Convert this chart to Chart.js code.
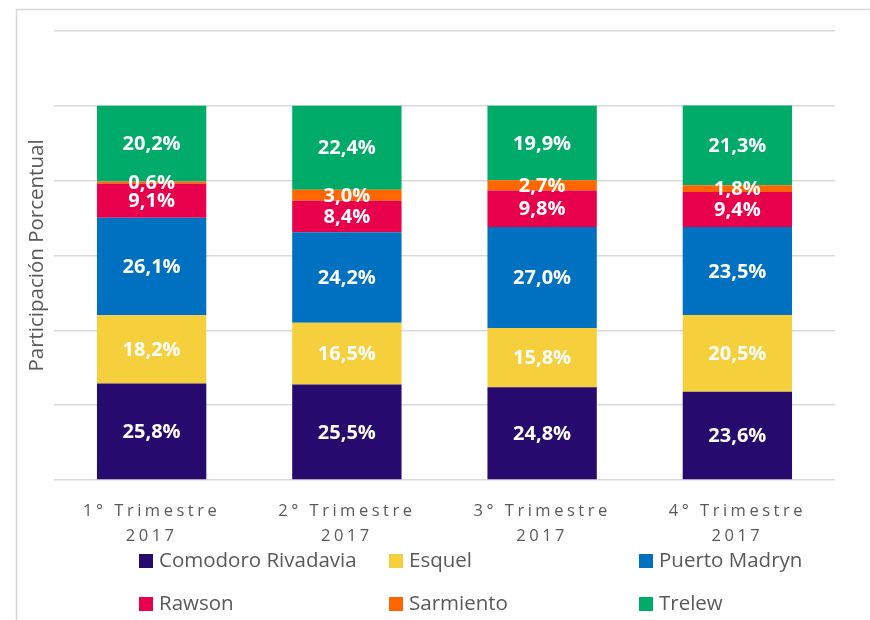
<!DOCTYPE html>
<html lang="es">
<head>
  <meta charset="UTF-8">
  <title>Participación Porcentual 2017</title>
  <style>
    html, body { margin: 0; padding: 0; background: #fff; }
    #wrap { width: 870px; height: 620px; }
  </style>
</head>
<body>
  <div id="wrap"><canvas id="chart" width="870" height="620"></canvas></div>

  <script src="https://cdn.jsdelivr.net/npm/chart.js"></script>
  <script>
    const categories = [['1° Trimestre', '2017'], ['2° Trimestre', '2017'], ['3° Trimestre', '2017'], ['4° Trimestre', '2017']];
    const cities = ['Comodoro Rivadavia', 'Esquel', 'Puerto Madryn', 'Rawson', 'Sarmiento', 'Trelew'];
    const comodoro = [25.8, 25.5, 24.8, 23.6];
    const esquel = [18.2, 16.5, 15.8, 20.5];
    const puertoMadryn = [26.1, 24.2, 27.0, 23.5];
    const rawson = [9.1, 8.4, 9.8, 9.4];
    const sarmiento = [0.6, 3.0, 2.7, 1.8];
    const trelew = [20.2, 22.4, 19.9, 21.3];
    const colors = ['#270a6e', '#f6cf3d', '#0070c0', '#e8004c', '#ff6600', '#00aa68'];

    const FONT = "'Open Sans', sans-serif";
    const GREY = '#595959';

    const series = [comodoro, esquel, puertoMadryn, rawson, sarmiento, trelew];

    // frame + white background
    const framePlugin = {
      id: 'frame',
      beforeDraw(chart) {
        const ctx = chart.ctx;
        ctx.save();
        ctx.fillStyle = '#fff';
        ctx.fillRect(0, 0, chart.width, chart.height);
        ctx.strokeStyle = '#d9d9d9';
        ctx.lineWidth = 1.5;
        ctx.strokeRect(16.5, 9.5, chart.width + 20, chart.height + 20);
        ctx.restore();

        // spaced-out x tick labels
        const sx = chart.scales.x;
        if (sx && !sx._spaced) {
          const orig = sx.drawLabels.bind(sx);
          sx.drawLabels = (area) => {
            chart.ctx.save();
            chart.ctx.letterSpacing = '3.5px';
            orig(area);
            chart.ctx.restore();
          };
          sx._spaced = true;
        }
      }
    };

    const valueLabels = {
      id: 'valueLabels',
      afterDatasetsDraw(chart) {
        const ctx = chart.ctx;
        ctx.save();
        ctx.font = 'bold 20px ' + FONT;
        ctx.fillStyle = '#fff';
        ctx.textAlign = 'center';
        ctx.textBaseline = 'middle';
        chart.data.datasets.forEach((ds, i) => {
          chart.getDatasetMeta(i).data.forEach((el, j) => {
            const p = el.getProps(['x', 'y', 'base'], true);
            const txt = ds.data[j].toFixed(1).replace('.', ',') + '%';
            ctx.fillText(txt, p.x, (p.y + p.base) / 2 + 1);
          });
        });
        ctx.restore();
      }
    };

    // 3-column legend like the original
    const gridLegend = {
      id: 'gridLegend',
      afterDraw(chart) {
        const ctx = chart.ctx;
        ctx.save();
        ctx.font = '20.5px ' + FONT;
        ctx.textBaseline = 'middle';
        chart.data.datasets.forEach((ds, i) => {
          const bx = 139 + (i % 3) * 250;
          const cy = 561 + Math.floor(i / 3) * 43;
          ctx.fillStyle = ds.backgroundColor;
          ctx.fillRect(bx, cy - 7, 14, 14);
          ctx.fillStyle = GREY;
          ctx.fillText(ds.label, bx + 20, cy);
        });
        ctx.restore();
      }
    };

    const ctx = document.getElementById('chart');
    const chart = new Chart(ctx, {
      type: 'bar',
      data: {
        labels: categories,
        datasets: cities.map((name, i) => ({
          label: name,
          data: series[i],
          backgroundColor: colors[i],
          borderWidth: 0,
          barPercentage: 0.56,
          categoryPercentage: 1
        }))
      },
      options: {
        responsive: false,
        animation: false,
        layout: { padding: { left: 16, top: 31, right: 35, bottom: 60 } },
        plugins: {
          legend: { display: false },
          tooltip: { enabled: false }
        },
        scales: {
          x: {
            stacked: true,
            grid: { display: false },
            border: { display: false },
            ticks: {
              color: GREY,
              font: { family: FONT, size: 16.5, lineHeight: 1.5 },
              padding: 11,
              maxRotation: 0,
              autoSkip: false
            },
            afterFit: s => { s.height = 80; }
          },
          y: {
            stacked: true,
            min: 0,
            max: 120,
            ticks: { display: false, stepSize: 20 },
            grid: { color: '#d9d9d9', lineWidth: 1.5, drawTicks: false },
            border: { display: false },
            title: {
              display: true,
              text: 'Participación Porcentual',
              color: GREY,
              font: { family: FONT, size: 20.5 },
              padding: { top: 9, bottom: 0 }
            },
            afterFit: s => { s.width = 38; }
          }
        }
      },
      plugins: [framePlugin, valueLabels, gridLegend]
    });
  </script>
</body>
</html>
